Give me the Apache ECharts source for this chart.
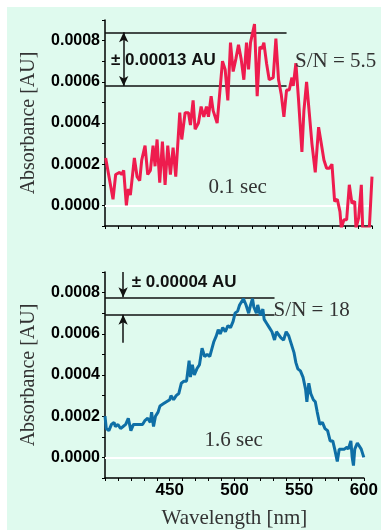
<!DOCTYPE html>
<html>
<head>
<meta charset="utf-8">
<style>
  html, body { margin: 0; padding: 0; background: #fff; }
  #bg { position: absolute; left: 7px; top: 7px; width: 374px; height: 523px; background: #dffaee; }
  #chart { position: absolute; left: 0; top: 0; width: 381px; height: 530px; }
</style>
<script src="https://cdn.jsdelivr.net/npm/echarts@6/dist/echarts.min.js"></script>
</head>
<body>
<div id="bg"></div>
<div id="chart"></div>
<script>
// 上图 0.1 sec 光谱
const topWavelength = [
  400.5, 406, 408, 411, 412.5, 414, 416, 417.5, 419, 422, 424, 426, 427.5, 430, 432, 434,
  436, 437.5, 439, 441, 443, 445, 447, 449, 451, 453, 456, 457.5, 460, 462.5, 464, 466,
  467.5, 470, 472, 474, 476, 477.5, 479.5, 481, 484, 486, 488, 490, 492, 494, 496, 498,
  500, 502, 504, 506, 507.5, 509, 512, 514, 516, 517.5, 519, 521, 523, 526, 528, 530,
  532, 534, 536, 538, 540, 541, 543, 545, 547.5, 549, 551, 553, 555, 557.5, 560, 562,
  564, 566, 568, 570, 572, 574, 576, 577, 579, 581, 583, 585, 587, 588, 590, 592, 593,
  596, 598, 600,
];
const topAbsorbance = [
  0.00023, 0.00003, 0.00015, 0.00016, 0.00015, 0.00017, 0.0, 0.00008, 0.00005, 0.00023,
  0.00014, 0.00012, 0.00022, 0.00029, 0.00015, 0.00017, 0.00029, 0.00019, 0.00032, 0.00011,
  0.00031, 0.0001, 0.00029, 0.00015, 0.00028, 0.00014, 0.00045, 0.00032, 0.00045, 0.00045,
  0.00039, 0.00051, 0.00037, 0.0004, 0.00048, 0.00043, 0.00048, 0.00043, 0.00053, 0.00046,
  0.0004, 0.00055, 0.0007, 0.00066, 0.00051, 0.00079, 0.00065, 0.00071, 0.00078, 0.00071,
  0.00061, 0.00079, 0.00066, 0.00079, 0.00088, 0.00053, 0.00077, 0.00076, 0.00079, 0.00069,
  0.00061, 0.00062, 0.00081, 0.00061, 0.00054, 0.00043, 0.00056, 0.00056, 0.00062, 0.00058,
  0.00069, 0.00051, 0.00026, 0.00046, 0.0006, 0.00045, 0.0003, 0.00016, 0.00038, 0.0003,
  0.00022, 0.00018, 0.00018, 0.0002, 0.00002, 0.00003, -0.00003, -0.00011, -0.00007, -0.00007,
  0.0001, 0.00001, 0.00002, -0.00011, -0.00006, 0.0001, -0.00011, -0.00011, -0.00011, 0.00014,
];

// 下图 1.6 sec 光谱
const bottomWavelength = [
  400, 401, 403, 405, 407, 408, 410, 412, 414, 416, 418, 420, 422, 424, 426, 429, 431, 433,
  435, 436, 437.5, 439, 441, 442.5, 445, 447.5, 450, 451, 453, 455, 457, 459, 461, 463, 465,
  466, 467.5, 469, 471, 473, 475, 477, 479, 481, 482.5, 484, 486, 487.5, 489, 491, 493, 495,
  497, 499, 500.5, 502.5, 504, 506, 507, 509, 511, 512.5, 514, 515, 517, 518, 520, 522, 523,
  525, 527, 529, 531, 532.5, 534, 536, 538, 540, 542, 544, 546, 547.5, 549, 551, 553, 555,
  556, 557.5, 559, 561, 562.5, 564, 566, 568, 570, 572, 574, 576, 577.5, 579.5, 581, 583,
  585, 587, 588, 590, 591, 592, 593, 595, 596, 598, 600,
];
const bottomAbsorbance = [
  0.0002, 0.00014, 0.00013, 0.00016, 0.00017, 0.00015, 0.00016, 0.00014, 0.00015, 0.00016,
  0.00019, 0.00013, 0.00016, 0.00016, 0.00016, 0.00016, 0.00018, 0.00019, 0.00017, 0.00022,
  0.00015, 0.0002, 0.00022, 0.00025, 0.00026, 0.00027, 0.00028, 0.0003, 0.00028, 0.0003,
  0.00031, 0.00036, 0.00037, 0.00037, 0.00047, 0.00039, 0.00045, 0.0004, 0.00043, 0.00045,
  0.00053, 0.00049, 0.0005, 0.00049, 0.00049, 0.00056, 0.00059, 0.00062, 0.0006, 0.00063,
  0.00061, 0.00064, 0.00063, 0.00066, 0.0007, 0.00071, 0.00074, 0.00076, 0.00077, 0.00074,
  0.0007, 0.00074, 0.00077, 0.00073, 0.0007, 0.00074, 0.00069, 0.00072, 0.00067, 0.00065,
  0.00063, 0.00061, 0.00057, 0.00061, 0.00061, 0.00058, 0.00057, 0.00061, 0.00059, 0.00055,
  0.00051, 0.00046, 0.00043, 0.00042, 0.00039, 0.00033, 0.00027, 0.00036, 0.00031, 0.00028,
  0.00027, 0.00022, 0.00016, 0.00017, 0.00014, 0.00013, 0.00008, 0.00008, 0.00004, -0.00002,
  0.00004, 0.00004, 0.00004, 0.00005, 0.00004, 0.00008, 0.0, -0.00004, 0.00004, 0.00007,
  0.00006, 0.00004, 0.0,
];

// 刻度
const gridValues = [0, 0.0002, 0.0004, 0.0006, 0.0008];
const xLabelValues = [450, 500, 550, 600];

// 噪声范围线 [上, 下, 结束波长]
const topNoiseLines = [0.00084, 0.00058, 536];
const bottomNoiseLines = [0.000777, 0.000692, 531];

// 文字标注
const topNotes = [
  { text: "± 0.00013 AU", x: 404.5, y: 0.000706, serif: false, align: "left" },
  { text: "S/N = 5.5", x: 542.3, y: 0.000698, serif: true, align: "left" },
  { text: "0.1 sec", x: 499.4, y: 0.000086, serif: true, align: "center" },
];
const bottomNotes = [
  { text: "± 0.00004 AU", x: 420.7, y: 0.00085, serif: false, align: "left" },
  { text: "S/N = 18", x: 530.3, y: 0.000713, serif: true, align: "left" },
  { text: "1.6 sec", x: 499.4, y: 0.000084, serif: true, align: "center" },
];

const SANS = "Liberation Sans";
const SERIF = "Liberation Serif";
const ARROW_X = 414;

const zip = (xs, ys) => xs.map((x, i) => [x, ys[i]]);

function makeXAxis(index, showLabels) {
  return {
    type: "value",
    gridIndex: index,
    min: 400,
    max: 600,
    interval: 10,
    splitLine: { show: false },
    axisLine: { onZero: false, lineStyle: { color: "#000", width: 1.5 } },
    axisTick: { length: 3, lineStyle: { color: "#000" } },
    axisLabel: {
      show: showLabels,
      margin: 4,
      color: "#000",
      fontFamily: SANS,
      fontWeight: "bold",
      fontSize: 17,
      formatter: (v) => (xLabelValues.includes(v) ? String(v) : ""),
    },
    name: showLabels ? "Wavelength [nm]" : "",
    nameLocation: "middle",
    nameGap: 30,
    nameTextStyle: { fontFamily: SERIF, fontSize: 21, color: "#333" },
  };
}

function makeYAxis(index) {
  return {
    type: "value",
    gridIndex: index,
    min: -0.0001,
    max: 0.0009,
    interval: 0.0001,
    splitLine: { show: false },
    axisLine: { show: true, onZero: false, lineStyle: { color: "#000", width: 1.5 } },
    axisTick: { show: true, length: 3, lineStyle: { color: "#000" } },
    axisLabel: {
      margin: 5,
      color: "#000",
      fontFamily: SANS,
      fontWeight: "bold",
      fontSize: 16,
      formatter: (v) => {
        const n = Math.round(v * 10000);
        return n % 2 === 0 && n >= 0 ? v.toFixed(4) : "";
      },
    },
    name: "Absorbance [AU]",
    nameLocation: "middle",
    nameGap: 66,
    nameTextStyle: { fontFamily: SERIF, fontSize: 20, color: "#333" },
  };
}

// 参考线、箭头、文字
function makeGuides(index, noise, arrows, notes) {
  const [hi, lo, end] = noise;
  const lineData = gridValues.map((v) => ({
    yAxis: v,
    lineStyle: { color: "#fff", width: 1.5, type: "solid" },
  }));
  lineData.push(
    [{ coord: [400, hi], symbol: "none" }, { coord: [end, hi], symbol: "none" }],
    [{ coord: [400, lo], symbol: "none" }, { coord: [end, lo], symbol: "none" }]
  );
  arrows.forEach((a) => {
    lineData.push([
      { coord: [ARROW_X, a[0]], symbol: a[2] },
      { coord: [ARROW_X, a[1]], symbol: "arrow" },
    ]);
  });
  return {
    type: "line",
    xAxisIndex: index,
    yAxisIndex: index,
    data: [],
    z: 1,
    silent: true,
    markLine: {
      z: 1,
      silent: true,
      symbol: "none",
      symbolSize: [7, 10],
      label: { show: false },
      lineStyle: { color: "#111", width: 1.5, type: "solid" },
      data: lineData,
    },
    markPoint: {
      z: 6,
      symbol: "circle",
      symbolSize: 0,
      silent: true,
      data: notes.map((n) => ({
        coord: [n.x, n.y],
        label: {
          show: true,
          position: "inside",
          align: n.align,
          verticalAlign: "middle",
          formatter: n.text,
          color: n.serif ? "#333" : "#111",
          fontFamily: n.serif ? SERIF : SANS,
          fontWeight: n.serif ? "normal" : "bold",
          fontSize: n.serif ? 21 : 17,
        },
      })),
    },
  };
}

function makeSpectrum(index, xs, ys, color) {
  return {
    type: "line",
    xAxisIndex: index,
    yAxisIndex: index,
    data: zip(xs, ys),
    z: 3,
    symbol: "none",
    lineStyle: { color: color, width: 3 },
  };
}

const chart = echarts.init(document.getElementById("chart"));
chart.setOption({
  animation: false,
  grid: [
    { left: 105, right: 9, top: 20, height: 206 },
    { left: 105, right: 9, top: 272, height: 206 },
  ],
  xAxis: [makeXAxis(0, false), makeXAxis(1, true)],
  yAxis: [makeYAxis(0), makeYAxis(1)],
  series: [
    makeGuides(0, topNoiseLines, [[topNoiseLines[0], topNoiseLines[1], "arrow"]], topNotes),
    makeSpectrum(0, topWavelength, topAbsorbance, "#ee1c4e"),
    makeGuides(
      1,
      bottomNoiseLines,
      [
        [0.0009, bottomNoiseLines[0], "none"],
        [0.000556, bottomNoiseLines[1], "none"],
      ],
      bottomNotes
    ),
    makeSpectrum(1, bottomWavelength, bottomAbsorbance, "#0f6fa6"),
  ],
});
</script>
</body>
</html>
